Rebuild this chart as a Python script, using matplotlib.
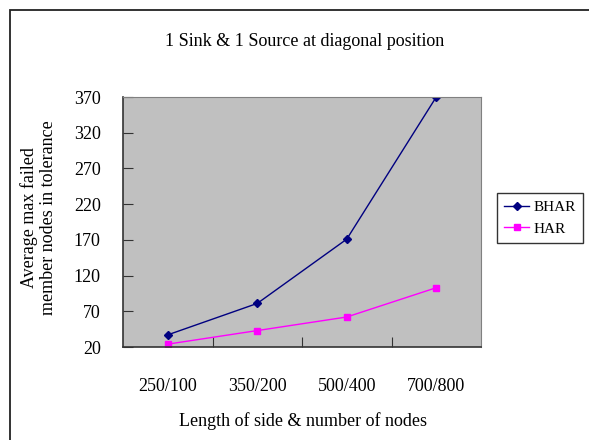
import matplotlib.pyplot as plt
from matplotlib.patches import Rectangle

plt.rcParams['font.family'] = ['Liberation Serif', 'DejaVu Serif']

categories = ['250/100', '350/200', '500/400', '700/800']
bhar = [37, 81, 171, 370]
har = [24, 43, 62, 103]
yticks = [20, 70, 120, 170, 220, 270, 320, 370]

fig = plt.figure(figsize=(5.89, 4.40), dpi=100)
W, H = 589, 440

# outer chart frame (runs off the right and bottom edges)
fig.patches.append(Rectangle((9.5 / W, -0.05), 1.1, 1 - 10.5 / H + 0.05,
                             transform=fig.transFigure, fill=False,
                             edgecolor='#222222', linewidth=1.3))

ax = fig.add_axes([123 / W, 1 - 347 / H, (481 - 123) / W, (347 - 97) / H])
ax.set_facecolor('#c0c0c0')

x = range(len(categories))
ax.plot(x, bhar, color='#000080', marker='D', markersize=4, linewidth=1, label='BHAR')
ax.plot(x, har, color='#ff00ff', marker='s', markersize=4, linewidth=1, label='HAR')

ax.set_xlim(-0.5, len(categories) - 0.5)
ax.set_ylim(20, 370)
ax.set_yticks(yticks)
ax.set_xticks([i + 0.5 for i in range(len(categories) - 1)])
ax.set_xticklabels([])
ax.set_xticks(list(x), minor=True)
ax.set_xticklabels(categories, minor=True, fontsize=13)
ax.tick_params(axis='x', which='minor', length=0, pad=22)
ax.tick_params(axis='x', which='major', direction='in', length=7, color='#333333')
ax.tick_params(axis='y', direction='in', length=7, color='#333333', labelsize=13, pad=16)

for s in ['top', 'right']:
    ax.spines[s].set_color('#808080')
for s in ['left', 'bottom']:
    ax.spines[s].set_color('#333333')
    ax.spines[s].set_linewidth(1.2)

fig.text(305 / W, 1 - 42 / H, '1 Sink & 1 Source at diagonal position',
         ha='center', va='center', fontsize=13)
fig.text(303 / W, 1 - 421 / H, 'Length of side & number of nodes',
         ha='center', va='center', fontsize=13)
fig.text(39 / W, 1 - 218 / H, 'Average max failed\nmember nodes in tolerance',
         ha='center', va='center', rotation=90, fontsize=13, linespacing=1.15)

leg = fig.legend(loc='center', bbox_to_anchor=(540 / W, 1 - 218 / H), frameon=True,
                 fancybox=False, edgecolor='black', fontsize=11, handlelength=1.6,
                 handletextpad=0.3, borderpad=0.5, labelspacing=0.5)
leg.get_frame().set_linewidth(1)

fig.savefig('out.png', dpi=100)
